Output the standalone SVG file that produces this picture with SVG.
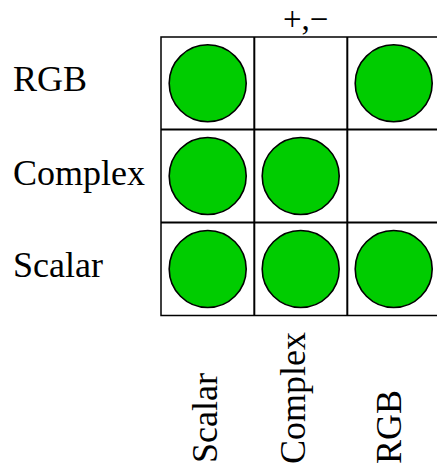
<svg xmlns="http://www.w3.org/2000/svg" width="437" height="467" viewBox="0 0 437 467">
<style>
text{font-family:"Liberation Serif","Times New Roman",serif;font-size:36px;fill:#000}
.grid{fill:none;stroke:#000;stroke-width:2}
.outer{fill:none;stroke:#000;stroke-width:1.5}
.dot{fill:#00cc00;stroke:#000;stroke-width:1.6}
</style>
<rect width="437" height="467" fill="#fff"/>
<g id="grid">
<rect class="outer" x="161" y="37" width="279" height="278.5"/>
<line class="grid" x1="254.3" y1="37" x2="254.3" y2="315.5"/>
<line class="grid" x1="347.3" y1="37" x2="347.3" y2="315.5"/>
<line class="grid" x1="161" y1="129.5" x2="440" y2="129.5"/>
<line class="grid" x1="161" y1="222.5" x2="440" y2="222.5"/>
</g>
<g id="cell-rgb-scalar"><circle class="dot" cx="207.7" cy="83.3" r="38.5"/></g>
<g id="cell-rgb-rgb"><circle class="dot" cx="393.7" cy="83.3" r="38.5"/></g>
<g id="cell-complex-scalar"><circle class="dot" cx="207.7" cy="176" r="38.5"/></g>
<g id="cell-complex-complex"><circle class="dot" cx="300.7" cy="176" r="38.5"/></g>
<g id="cell-scalar-scalar"><circle class="dot" cx="207.7" cy="269" r="38.5"/></g>
<g id="cell-scalar-complex"><circle class="dot" cx="300.7" cy="269" r="38.5"/></g>
<g id="cell-scalar-rgb"><circle class="dot" cx="393.7" cy="269" r="38.5"/></g>
<g id="op-label"><text x="283" y="29.5" style="font-size:33px">+,−</text></g>
<g id="row-labels">
<text x="13" y="91">RGB</text>
<text x="13" y="185">Complex</text>
<text x="13" y="277">Scalar</text>
</g>
<g id="col-labels">
<text transform="translate(217,463) rotate(-90)">Scalar</text>
<text transform="translate(305,464) rotate(-90)">Complex</text>
<text transform="translate(401,464) rotate(-90)">RGB</text>
</g>
</svg>
